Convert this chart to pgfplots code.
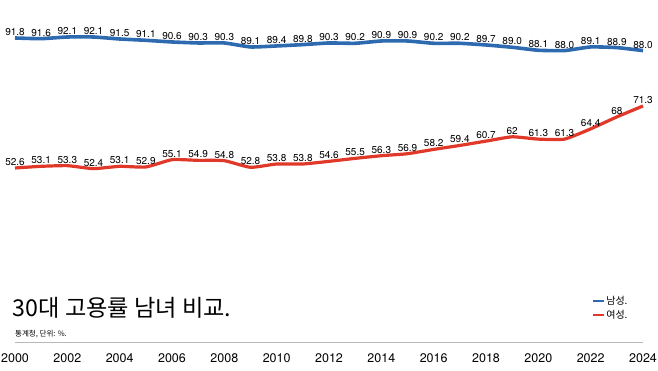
\documentclass[border=0pt]{standalone}
\usepackage{fontspec}
\setmainfont{TeX Gyre Heros}
\newfontfamily\kr{Noto Sans CJK KR}
\usepackage{pgfplots}
\usepackage{pgfplotstable}
\pgfplotsset{compat=1.18}
\definecolor{mblue}{HTML}{2E6AAF}
\definecolor{fred}{HTML}{E0392A}
\pgfplotstableread{
year val
2000 91.8
2001 91.6
2002 92.1
2003 92.1
2004 91.5
2005 91.1
2006 90.6
2007 90.3
2008 90.3
2009 89.1
2010 89.4
2011 89.8
2012 90.3
2013 90.2
2014 90.9
2015 90.9
2016 90.2
2017 90.2
2018 89.7
2019 89.0
2020 88.1
2021 88.0
2022 89.1
2023 88.9
2024 88.0
}\male
\pgfplotstableread{
year val
2000 52.6
2001 53.1
2002 53.3
2003 52.4
2004 53.1
2005 52.9
2006 55.1
2007 54.9
2008 54.8
2009 52.8
2010 53.8
2011 53.8
2012 54.6
2013 55.5
2014 56.3
2015 56.9
2016 58.2
2017 59.4
2018 60.7
2019 62
2020 61.3
2021 61.3
2022 64.4
2023 68
2024 71.3
}\female
\begin{document}
\begin{tikzpicture}[x=1pt,y=1pt]
\path[use as bounding box] (0,0) rectangle (658,370);
\begin{axis}[
  at={(15pt,27.6pt)}, anchor=south west,
  scale only axis, width=628pt, height=331.6pt,
  xmin=2000, xmax=2024, ymin=0, ymax=100,
  axis y line=none, axis x line*=bottom,
  x axis line style={draw=black!28, line width=1.2pt},
  xtick={2000,2002,...,2024}, major tick length=0pt,
  xticklabel style={font=\fontsize{12.5}{12.5}\selectfont, anchor=base, yshift=-20pt},
  /pgf/number format/1000 sep={}, /pgf/number format/assume math mode=true,
  clip=false,
  nodes near coords style={anchor=base, yshift=2.5pt, inner sep=0pt, text=black, font=\fontsize{10}{10}\selectfont},
  legend style={draw=none, fill=none, font=\kr\fontsize{10}{12}\selectfont,
    at={(axis description cs:0.918,0.146)}, anchor=north west, inner sep=0pt, row sep=0pt},
  legend cell align=left,
  legend image code/.code={\draw[#1, line width=1.6pt, line cap=butt] (0pt,0pt) -- (11pt,0pt);},
]
\addplot[mblue, line width=3.6pt, smooth, tension=0.3, line join=round, nodes near coords, point meta=explicit symbolic] table[x=year, y=val, meta=val] {\male};
\addlegendentry{남성.}
\addplot[fred, line width=3.2pt, smooth, tension=0.3, line join=round, nodes near coords, point meta=explicit symbolic] table[x=year, y=val, meta=val] {\female};
\addlegendentry{여성.}
\end{axis}
\node[anchor=base west, inner sep=0pt, font=\kr\fontsize{23.2}{23.2}\selectfont] at (12.7,53.3) {30대 고용률 남녀 비교.};
\node[anchor=base west, inner sep=0pt, font=\kr\fontsize{7.5}{7.5}\selectfont] at (15,34) {통계청, 단위: \%.};
\end{tikzpicture}
\end{document}
